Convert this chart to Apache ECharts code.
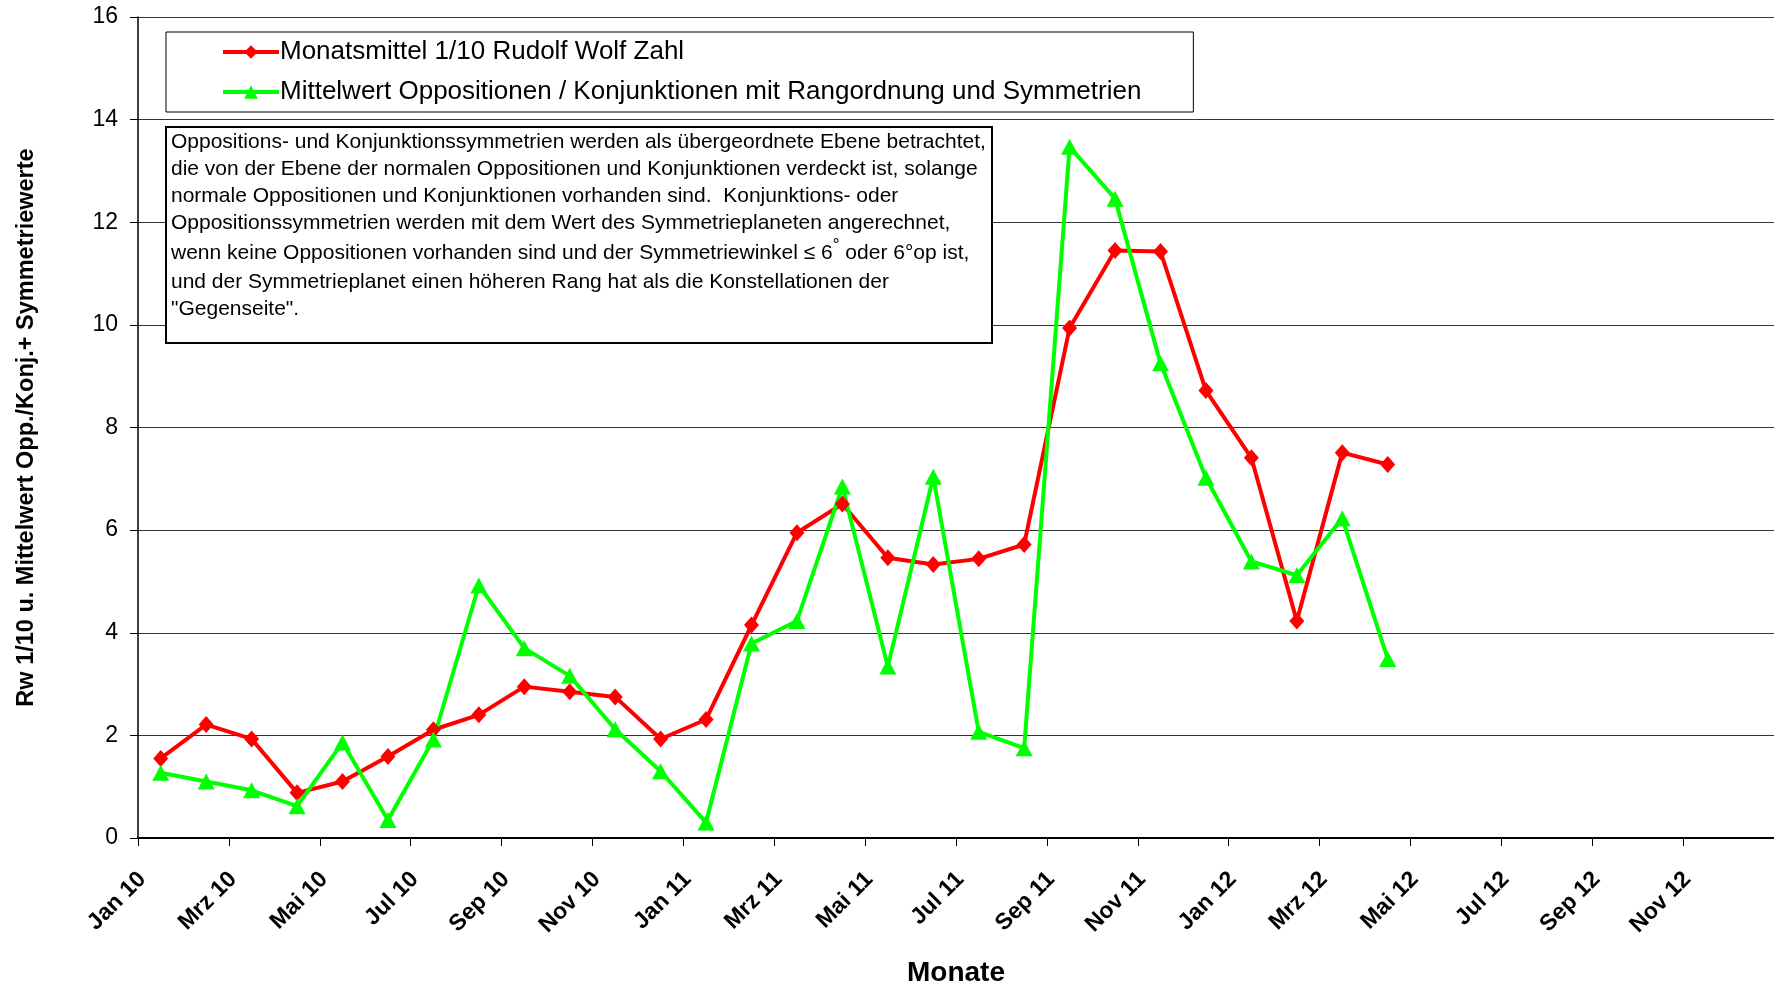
<!DOCTYPE html>
<html lang="de">
<head>
    <meta charset="UTF-8">
    <title>Rudolf Wolf Zahl - Oppositionen / Konjunktionen</title>
    <script src="https://cdn.jsdelivr.net/npm/echarts@6/dist/echarts.min.js"></script>
    <style>
        * {
            margin: 0;
            padding: 0;
            box-sizing: border-box;
        }

        body {
            background: #ffffff;
        }

        #chart {
            width: 1774px;
            height: 988px;
        }
    </style>
</head>
<body>
    <div id="chart"></div>

    <script>
        // Monate mit Werten (Jan 10 - Apr 12)
        const months = [
            'Jan 10', 'Feb 10', 'Mrz 10', 'Apr 10', 'Mai 10', 'Jun 10', 'Jul 10', 'Aug 10', 'Sep 10', 'Okt 10', 'Nov 10', 'Dez 10',
            'Jan 11', 'Feb 11', 'Mrz 11', 'Apr 11', 'Mai 11', 'Jun 11', 'Jul 11', 'Aug 11', 'Sep 11', 'Okt 11', 'Nov 11', 'Dez 11',
            'Jan 12', 'Feb 12', 'Mrz 12', 'Apr 12'
        ];

        // Monatsmittel 1/10 Rudolf Wolf Zahl
        const wolfValues = [
            1.55, 2.21, 1.93, 0.88, 1.10, 1.59, 2.11, 2.40, 2.95, 2.85, 2.75, 1.93,
            2.31, 4.15, 5.95, 6.51, 5.46, 5.33, 5.44, 5.72, 9.94, 11.45, 11.43, 8.72,
            7.41, 4.23, 7.51, 7.28
        ];

        // Mittelwert Oppositionen / Konjunktionen
        const oppValues = [
            1.27, 1.10, 0.93, 0.62, 1.86, 0.35, 1.92, 4.92, 3.70, 3.16, 2.12, 1.30,
            0.30, 3.79, 4.23, 6.85, 3.34, 7.04, 2.07, 1.75, 13.47, 12.46, 9.25, 7.02,
            5.39, 5.12, 6.23, 3.49
        ];

        // Beschriftung der x-Achse (alle 2 Monate)
        const tickLabels = [
            'Jan 10', 'Mrz 10', 'Mai 10', 'Jul 10', 'Sep 10', 'Nov 10',
            'Jan 11', 'Mrz 11', 'Mai 11', 'Jul 11', 'Sep 11', 'Nov 11',
            'Jan 12', 'Mrz 12', 'Mai 12', 'Jul 12', 'Sep 12', 'Nov 12'
        ];

        const yTicks = [0, 2, 4, 6, 8, 10, 12, 14, 16];

        const seriesNames = [
            'Monatsmittel 1/10 Rudolf Wolf Zahl',
            'Mittelwert Oppositionen / Konjunktionen mit Rangordnung und Symmetrien'
        ];

        const noteLines = [
            'Oppositions- und Konjunktionssymmetrien werden als übergeordnete Ebene betrachtet,',
            'die von der Ebene der normalen Oppositionen und Konjunktionen verdeckt ist, solange',
            'normale Oppositionen und Konjunktionen vorhanden sind.  Konjunktions- oder',
            'Oppositionssymmetrien werden mit dem Wert des Symmetrieplaneten angerechnet,',
            'wenn keine Oppositionen vorhanden sind und der Symmetriewinkel ≤ 6{sup|°} oder 6°op ist,',
            'und der Symmetrieplanet einen höheren Rang hat als die Konstellationen der',
            '"Gegenseite".'
        ];

        // Punkte liegen in der Mitte des jeweiligen Monats
        const toPoints = values => values.map((v, i) => [i + 0.5, v]);

        const font = '"Liberation Sans", Arial, sans-serif';

        const chart = echarts.init(document.getElementById('chart'));
        chart.setOption({
            animation: false,
            backgroundColor: '#ffffff',
            textStyle: {
                fontFamily: font,
                color: '#000'
            },
            grid: {
                left: 138,
                right: 0,
                top: 17,
                bottom: 150,
                outerBoundsMode: 'none'
            },
            title: {
                text: noteLines.join('\n'),
                left: 166,
                top: 127,
                padding: [2, 6, 20, 5],
                borderColor: '#000',
                borderWidth: 2,
                backgroundColor: '#fff',
                textStyle: {
                    fontFamily: font,
                    fontSize: 21,
                    fontWeight: 'normal',
                    color: '#000',
                    lineHeight: 27,
                    rich: {
                        sup: {
                            fontFamily: font,
                            fontSize: 17,
                            lineHeight: 32,
                            verticalAlign: 'top',
                            color: '#000'
                        }
                    }
                }
            },
            legend: {
                orient: 'vertical',
                left: 166,
                top: 32,
                padding: [7, 52, 7, 55],
                itemGap: 14,
                itemWidth: 56,
                itemHeight: 17,
                borderColor: '#000',
                borderWidth: 1,
                backgroundColor: '#fff',
                data: seriesNames,
                lineStyle: { width: 4 },
                textStyle: {
                    fontFamily: font,
                    fontSize: 26,
                    lineHeight: 26,
                    color: '#000',
                    padding: [0, 0, 0, -4]
                }
            },
            xAxis: {
                type: 'value',
                min: 0,
                max: 36,
                interval: 2,
                axisLine: {
                    show: true,
                    onZero: false,
                    lineStyle: { color: '#000', width: 2 }
                },
                axisTick: {
                    show: true,
                    length: 8,
                    lineStyle: { color: '#000', width: 1 }
                },
                splitLine: { show: false },
                axisLabel: {
                    rotate: 45,
                    margin: 42,
                    padding: [0, -6, 0, 0],
                    fontFamily: font,
                    fontSize: 23,
                    fontWeight: 'bold',
                    color: '#000',
                    showMaxLabel: false,
                    formatter: v => tickLabels[Math.round(v / 2)] || ''
                },
                name: 'Monate',
                nameLocation: 'middle',
                nameGap: 121,
                nameTextStyle: {
                    fontFamily: font,
                    fontSize: 28,
                    fontWeight: 'bold',
                    color: '#000'
                }
            },
            yAxis: {
                type: 'value',
                min: yTicks[0],
                max: yTicks[yTicks.length - 1],
                interval: 2,
                axisLine: {
                    show: true,
                    lineStyle: { color: '#000', width: 1.5 }
                },
                axisTick: {
                    show: true,
                    length: 8,
                    lineStyle: { color: '#000' }
                },
                splitLine: {
                    show: true,
                    lineStyle: { color: '#333', width: 1 }
                },
                axisLabel: {
                    margin: 20,
                    fontFamily: font,
                    fontSize: 23,
                    color: '#000'
                },
                name: 'Rw 1/10 u. Mittelwert Opp./Konj.+ Symmetriewerte',
                nameLocation: 'middle',
                nameGap: 99,
                nameTextStyle: {
                    fontFamily: font,
                    fontSize: 23.5,
                    fontWeight: 'bold',
                    color: '#000'
                }
            },
            series: [
                {
                    name: seriesNames[0],
                    type: 'line',
                    data: toPoints(wolfValues),
                    symbol: 'diamond',
                    symbolSize: [15, 17],
                    lineStyle: { color: '#ff0000', width: 4 },
                    itemStyle: { color: '#ff0000' }
                },
                {
                    name: seriesNames[1],
                    type: 'line',
                    data: toPoints(oppValues),
                    symbol: 'triangle',
                    symbolSize: [17, 16],
                    lineStyle: { color: '#00ff00', width: 4 },
                    itemStyle: { color: '#00ff00' }
                }
            ]
        });
    </script>
</body>
</html>
